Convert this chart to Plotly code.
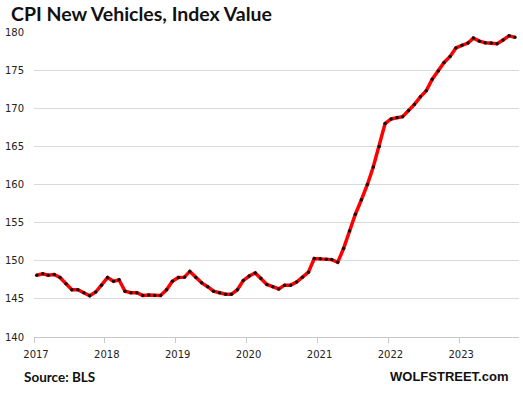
import pandas as pd
import plotly.graph_objects as go

# Monthly CPI New Vehicles index, Jan 2017 - Oct 2023
values = [
    148.1, 148.3, 148.1, 148.2, 147.8, 147.0, 146.2, 146.2, 145.8, 145.4, 145.9, 146.8,  # 2017
    147.8, 147.3, 147.5, 146.0, 145.8, 145.8, 145.45, 145.5, 145.45, 145.45, 146.2, 147.3,  # 2018
    147.8, 147.85, 148.6, 147.8, 147.1, 146.6, 146.0, 145.8, 145.6, 145.6, 146.2, 147.4,  # 2019
    148.0, 148.4, 147.7, 146.9, 146.6, 146.3, 146.8, 146.8, 147.2, 147.85, 148.5, 150.3,  # 2020
    150.25, 150.2, 150.15, 149.8, 151.6, 153.9, 156.1, 158.0, 160.0, 162.3, 165.0, 168.0,  # 2021
    168.6, 168.8, 168.9, 169.7, 170.5, 171.5, 172.3, 173.8, 174.9, 176.0, 176.8, 177.9,  # 2022
    178.25, 178.55, 179.2, 178.8, 178.6, 178.55, 178.45, 178.95, 179.5, 179.3,  # 2023
]
start_month = "2017-01-01"
year_ticks = [2017, 2018, 2019, 2020, 2021, 2022, 2023]
y_ticks = [140, 145, 150, 155, 160, 165, 170, 175, 180]

title_text = "CPI New Vehicles, Index Value"
source_text = "Source: BLS"
brand_text = "WOLFSTREET.com"

dates = pd.date_range(start=start_month, periods=len(values), freq="MS") + pd.Timedelta(days=14)

fig = go.Figure()
fig.add_trace(go.Scatter(
    x=dates, y=values, mode="lines+markers",
    line=dict(color="#ff0000", width=3.5),
    marker=dict(color="#111111", size=3.5, symbol="circle"),
    hoverinfo="skip", showlegend=False, cliponaxis=False,
))

grid = "#d9d9d9"
fig.update_layout(
    width=523, height=394,
    margin=dict(l=34, r=4, t=32, b=57),
    paper_bgcolor="white", plot_bgcolor="white",
    font=dict(family="DejaVu Sans", size=10, color="#222222"),
    xaxis=dict(
        type="date", automargin=False,
        range=["2017-01-01", "2023-11-05"],
        tickvals=[f"{y}-01-01" for y in year_ticks],
        ticktext=[str(y) for y in year_ticks],
        showgrid=False, zeroline=False,
        showline=True, linecolor="#c8c8c8", linewidth=1,
        ticks="outside", ticklen=5, tickcolor="#c8c8c8", tickwidth=1,
        ticklabelshift=2, ticklabelstandoff=3,
        tickfont=dict(family="DejaVu Sans", size=10, color="#222222"),
    ),
    yaxis=dict(
        range=[140, 180], automargin=False,
        tickvals=y_ticks,
        showgrid=True, gridcolor=grid, gridwidth=1,
        zeroline=False, showline=False, ticks="",
        ticklabelstandoff=9,
        tickfont=dict(family="DejaVu Sans", size=10, color="#222222"),
    ),
    annotations=[
        dict(text=f"<b>{title_text}</b>", xref="paper", yref="paper",
             x=-24/485, y=1 + 5.5/305, xanchor="left", yanchor="bottom",
             borderpad=0,
             showarrow=False, font=dict(family="Lato", size=19.5, color="#111111")),
        dict(text=f"<b>{source_text}</b>", xref="paper", yref="paper",
             x=-12/485, y=-40/305, xanchor="left", yanchor="middle",
             showarrow=False, font=dict(family="Lato", size=13.5, color="#111111")),
        dict(text=f"<b>{brand_text}</b>", xref="paper", yref="paper",
             x=1 - 9/485, y=-39.5/305, xanchor="right", yanchor="middle",
             showarrow=False, font=dict(family="Liberation Sans", size=13, color="#111111")),
    ],
)

fig.write_html("out.html", config={"displayModeBar": False},
               post_script="document.body.style.margin='0';")
